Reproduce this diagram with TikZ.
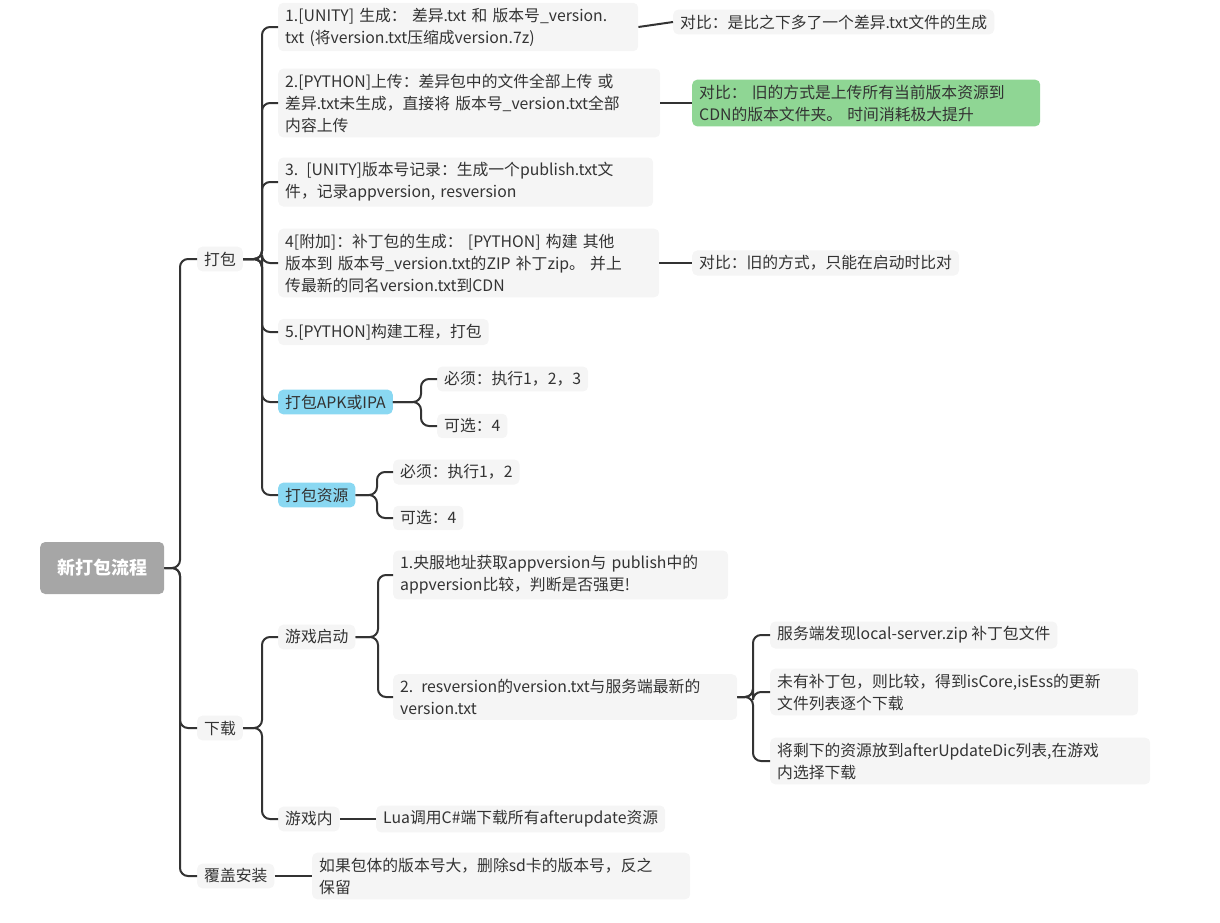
\documentclass[tikz,border=0pt]{standalone}
\usepackage{fontspec}
\setmainfont{Noto Sans CJK SC}
\usetikzlibrary{positioning}
\definecolor{boxgray}{HTML}{F5F5F5}
\definecolor{rootgray}{HTML}{A6A6A6}
\definecolor{tipgreen}{HTML}{8FD694}
\definecolor{tipblue}{HTML}{8AD8F2}
\definecolor{linegray}{HTML}{333333}
\tikzset{
  topic/.style={fill=boxgray, rounded corners=5pt, inner xsep=7pt, inner ysep=5pt,
    anchor=west, align=left, text=black!80, font=\fontsize{15.8}{22}\selectfont},
  wide/.style={text width=#1-14pt},
  rootbox/.style={topic, fill=rootgray, text=white, font=\fontsize{18}{22}\selectfont\bfseries,
    minimum height=52pt, minimum width=124pt, align=center},
  greenbox/.style={topic, fill=tipgreen},
  bluebox/.style={topic, fill=tipblue},
  edge/.style={draw=linegray, line width=2pt, rounded corners=8pt}
}
\newcommand{\br}[3]{\draw[edge] (#1.east) -- (#3,0 |- #1.east) |- (#2.west);}
\begin{document}
\begin{tikzpicture}[x=1pt,y=-1pt]
\useasboundingbox (0,0) rectangle (1220,922);
% root and main branches
\node[rootbox] (root) at (40,568) {新打包流程};
\node[topic] (pack) at (197,259) {打包};
\node[topic] (down) at (197,728) {下载};
\node[topic] (inst) at (197,876) {覆盖安装};
% packing steps
\node[topic, wide=360] (s1) at (278,27) {1.[UNITY] 生成： 差异.txt 和 版本号\_version.\\txt (将version.txt压缩成version.7z)};
\node[topic] (c1) at (673,22) {对比：是比之下多了一个差异.txt文件的生成};
\node[topic, wide=382] (s2) at (278,103) {2.[PYTHON]上传：差异包中的文件全部上传 或\\差异.txt未生成，直接将 版本号\_version.txt全部\\内容上传};
\node[greenbox, wide=348] (c2) at (692,103) {对比： 旧的方式是上传所有当前版本资源到\\CDN的版本文件夹。 时间消耗极大提升};
\node[topic, wide=375] (s3) at (278,182) {3. [UNITY]版本号记录：生成一个publish.txt文\\件，记录appversion, resversion};
\node[topic, wide=381] (s4) at (278,263) {4[附加]：补丁包的生成： [PYTHON] 构建 其他\\版本到 版本号\_version.txt的ZIP 补丁zip。 并上\\传最新的同名version.txt到CDN};
\node[topic] (c4) at (692,263) {对比：旧的方式，只能在启动时比对};
\node[topic] (s5) at (278,332) {5.[PYTHON]构建工程，打包};
\node[bluebox] (apk) at (278,402) {打包APK或IPA};
\node[topic] (apk1) at (437,379) {必须：执行1，2，3};
\node[topic] (apk2) at (437,426) {可选：4};
\node[bluebox] (res) at (278,495) {打包资源};
\node[topic] (res1) at (393,472) {必须：执行1，2};
\node[topic] (res2) at (393,518) {可选：4};
% download
\node[topic] (start) at (278,637) {游戏启动};
\node[topic, wide=335] (g1) at (393,575) {1.央服地址获取appversion与 publish中的\\appversion比较，判断是否强更!};
\node[topic, wide=344] (g2) at (393,697) {2. resversion的version.txt与服务端最新的\\version.txt};
\node[topic] (t1) at (770,635) {服务端发现local-server.zip 补丁包文件};
\node[topic, wide=368] (t2) at (770,692) {未有补丁包，则比较，得到isCore,isEss的更新\\文件列表逐个下载};
\node[topic, wide=380] (t3) at (770,761) {将剩下的资源放到afterUpdateDic列表,在游戏\\内选择下载};
\node[topic] (ingame) at (278,819) {游戏内};
\node[topic] (lua) at (376,819) {Lua调用C\#端下载所有afterupdate资源};
\node[topic, wide=378] (keep) at (312,876) {如果包体的版本号大，删除sd卡的版本号，反之\\保留};
% connectors
\foreach \c in {pack,down,inst} {\br{root}{\c}{180}}
\foreach \c in {s1,s2,s3,s4,s5,apk,res} {\br{pack}{\c}{262}}
\draw[edge] (s1.east) -- (c1.west);
\draw[edge] (s2.east) -- (c2.west);
\draw[edge] (s4.east) -- (c4.west);
\foreach \c in {apk1,apk2} {\br{apk}{\c}{421}}
\foreach \c in {res1,res2} {\br{res}{\c}{377}}
\foreach \c in {start,ingame} {\br{down}{\c}{262}}
\foreach \c in {g1,g2} {\br{start}{\c}{378}}
\foreach \c in {t1,t2,t3} {\br{g2}{\c}{753}}
\draw[edge] (ingame.east) -- (lua.west);
\draw[edge] (inst.east) -- (keep.west);
\end{tikzpicture}
\end{document}
